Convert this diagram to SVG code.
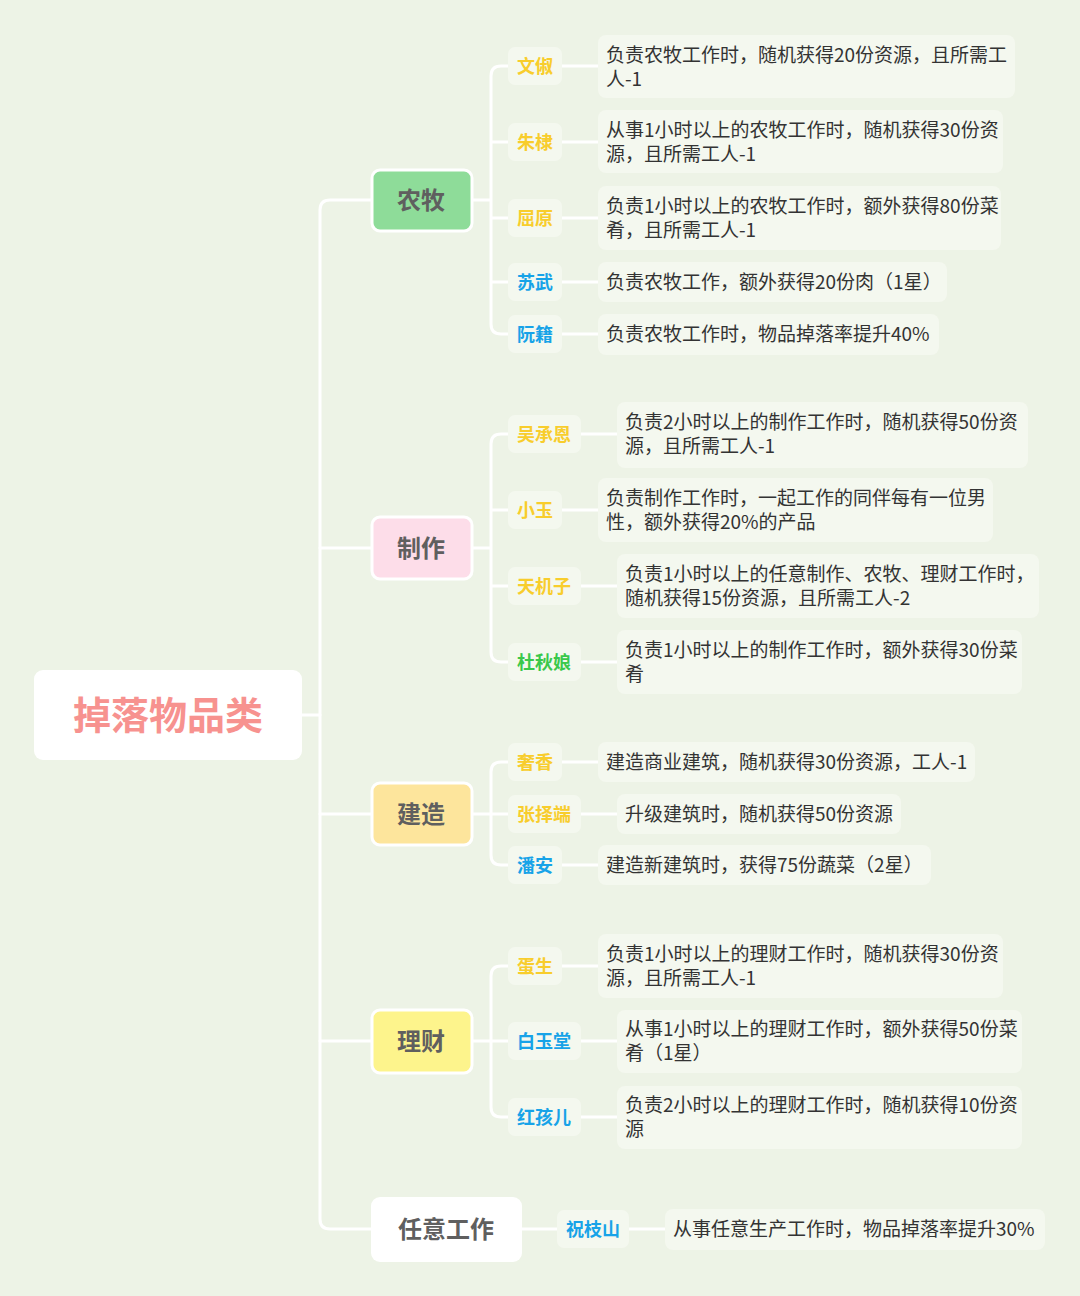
<svg xmlns="http://www.w3.org/2000/svg" width="1080" height="1296" viewBox="0 0 1080 1296">
<style>
text{font-family:"Noto Sans CJK SC","Noto Sans",sans-serif}
.ln{fill:none;stroke:#ffffff;stroke-width:3;stroke-linecap:round;stroke-linejoin:round}
.cat{stroke:#ffffff;stroke-width:3}
.ct{font-size:24px;font-weight:bold;fill:#5f5f5f;text-anchor:middle}
.nb{fill:#f4f8ef}
.nt{font-size:18px;font-weight:bold;text-anchor:middle}
.y{fill:#f8cd2c}
.b{fill:#17a3e8}
.g{fill:#3ac84b}
.db{fill:#f4f8ef}
.dt{font-size:19px;fill:#333333}
</style>
<rect width="1080" height="1296" fill="#edf3e6"/>
<g id="connectors" class="ln">
<path d="M302,715 H320"/>
<path d="M372,200 H330 Q320,200 320,210 V1219 Q320,1229 330,1229 H371"/>
<path d="M320,548 H372 M320,814 H372 M320,1041 H372"/>
<path d="M472,200 H491 M508,66 H501 Q491,66 491,76 V324 Q491,334 501,334 H508 M491,142 H508 M491,218 H508 M491,282 H508"/>
<path d="M562,66 H598 M562,142 H598 M562,218 H598 M562,282 H598 M562,334 H598"/>
<path d="M472,548 H491 M508,434 H501 Q491,434 491,444 V652 Q491,662 501,662 H508 M491,510 H508 M491,586 H508"/>
<path d="M581,434 H617 M562,510 H598 M581,586 H617 M581,662 H617"/>
<path d="M472,814 H491 M508,762 H501 Q491,762 491,772 V855 Q491,865 501,865 H508 M491,814 H508"/>
<path d="M562,762 H598 M581,814 H617 M562,865 H598"/>
<path d="M472,1041 H491 M508,966 H501 Q491,966 491,976 V1107 Q491,1117 501,1117 H508 M491,1041 H508"/>
<path d="M562,966 H598 M581,1041 H617 M581,1117 H617"/>
<path d="M522,1229 H557 M629,1229 H665"/>
</g>
<g id="root">
<rect x="34" y="670" width="268" height="90" rx="9" fill="#ffffff"/>
<text x="168" y="729" font-size="38" font-weight="bold" fill="#f7928f" text-anchor="middle">掉落物品类</text>
</g>
<g id="cat-nongmu">
<rect class="cat" x="372" y="170" width="100" height="61" rx="8" fill="#8edc99"/>
<text class="ct" x="421" y="209">农牧</text>
</g>
<g id="cat-zhizuo">
<rect class="cat" x="372" y="517" width="100" height="62" rx="8" fill="#fddde9"/>
<text class="ct" x="421" y="557">制作</text>
</g>
<g id="cat-jianzao">
<rect class="cat" x="372" y="783" width="100" height="62" rx="8" fill="#fde59c"/>
<text class="ct" x="421" y="823">建造</text>
</g>
<g id="cat-licai">
<rect class="cat" x="372" y="1010" width="100" height="63" rx="8" fill="#fdf48c"/>
<text class="ct" x="421" y="1050">理财</text>
</g>
<g id="cat-renyi">
<rect x="371" y="1197" width="151" height="65" rx="9" fill="#ffffff"/>
<text class="ct" x="446" y="1238">任意工作</text>
</g>
<g id="n-wenchu"><rect class="nb" x="508" y="47" width="54" height="38" rx="7"/><text class="nt y" x="535" y="73">文俶</text></g>
<g id="d-wenchu"><rect class="db" x="598" y="35" width="417" height="63" rx="8"/><text class="dt" x="606" y="62">负责农牧工作时，随机获得20份资源，且所需工</text><text class="dt" x="606" y="86">人-1</text></g>
<g id="n-zhudi"><rect class="nb" x="508" y="123" width="54" height="38" rx="7"/><text class="nt y" x="535" y="149">朱棣</text></g>
<g id="d-zhudi"><rect class="db" x="598" y="110" width="405" height="63" rx="8"/><text class="dt" x="606" y="137">从事1小时以上的农牧工作时，随机获得30份资</text><text class="dt" x="606" y="161">源，且所需工人-1</text></g>
<g id="n-quyuan"><rect class="nb" x="508" y="199" width="54" height="38" rx="7"/><text class="nt y" x="535" y="225">屈原</text></g>
<g id="d-quyuan"><rect class="db" x="598" y="186" width="403" height="64" rx="8"/><text class="dt" x="606" y="213">负责1小时以上的农牧工作时，额外获得80份菜</text><text class="dt" x="606" y="237">肴，且所需工人-1</text></g>
<g id="n-suwu"><rect class="nb" x="508" y="263" width="54" height="38" rx="7"/><text class="nt b" x="535" y="289">苏武</text></g>
<g id="d-suwu"><rect class="db" x="598" y="262" width="349" height="40" rx="8"/><text class="dt" x="606" y="289">负责农牧工作，额外获得20份肉（1星）</text></g>
<g id="n-ruanji"><rect class="nb" x="508" y="315" width="54" height="38" rx="7"/><text class="nt b" x="535" y="341">阮籍</text></g>
<g id="d-ruanji"><rect class="db" x="598" y="314" width="341" height="41" rx="8"/><text class="dt" x="606" y="341">负责农牧工作时，物品掉落率提升40%</text></g>
<g id="n-wuchengen"><rect class="nb" x="508" y="415" width="73" height="38" rx="7"/><text class="nt y" x="544" y="441">吴承恩</text></g>
<g id="d-wuchengen"><rect class="db" x="617" y="402" width="411" height="66" rx="8"/><text class="dt" x="625" y="429">负责2小时以上的制作工作时，随机获得50份资</text><text class="dt" x="625" y="453">源，且所需工人-1</text></g>
<g id="n-xiaoyu"><rect class="nb" x="508" y="491" width="54" height="38" rx="7"/><text class="nt y" x="535" y="517">小玉</text></g>
<g id="d-xiaoyu"><rect class="db" x="598" y="478" width="395" height="64" rx="8"/><text class="dt" x="606" y="505">负责制作工作时，一起工作的同伴每有一位男</text><text class="dt" x="606" y="529">性，额外获得20%的产品</text></g>
<g id="n-tianjizi"><rect class="nb" x="508" y="567" width="73" height="38" rx="7"/><text class="nt y" x="544" y="593">天机子</text></g>
<g id="d-tianjizi"><rect class="db" x="617" y="554" width="422" height="64" rx="8"/><text class="dt" x="625" y="581">负责1小时以上的任意制作、农牧、理财工作时，</text><text class="dt" x="625" y="605">随机获得15份资源，且所需工人-2</text></g>
<g id="n-duqiuniang"><rect class="nb" x="508" y="643" width="73" height="38" rx="7"/><text class="nt g" x="544" y="669">杜秋娘</text></g>
<g id="d-duqiuniang"><rect class="db" x="617" y="630" width="405" height="64" rx="8"/><text class="dt" x="625" y="657">负责1小时以上的制作工作时，额外获得30份菜</text><text class="dt" x="625" y="681">肴</text></g>
<g id="n-shexiang"><rect class="nb" x="508" y="743" width="54" height="38" rx="7"/><text class="nt y" x="535" y="769">奢香</text></g>
<g id="d-shexiang"><rect class="db" x="598" y="742" width="377" height="40" rx="8"/><text class="dt" x="606" y="769">建造商业建筑，随机获得30份资源，工人-1</text></g>
<g id="n-zhangzeduan"><rect class="nb" x="508" y="795" width="73" height="38" rx="7"/><text class="nt y" x="544" y="821">张择端</text></g>
<g id="d-zhangzeduan"><rect class="db" x="617" y="794" width="284" height="40" rx="8"/><text class="dt" x="625" y="821">升级建筑时，随机获得50份资源</text></g>
<g id="n-panan"><rect class="nb" x="508" y="846" width="54" height="38" rx="7"/><text class="nt b" x="535" y="872">潘安</text></g>
<g id="d-panan"><rect class="db" x="598" y="845" width="333" height="40" rx="8"/><text class="dt" x="606" y="872">建造新建筑时，获得75份蔬菜（2星）</text></g>
<g id="n-dansheng"><rect class="nb" x="508" y="947" width="54" height="38" rx="7"/><text class="nt y" x="535" y="973">蛋生</text></g>
<g id="d-dansheng"><rect class="db" x="598" y="934" width="405" height="64" rx="8"/><text class="dt" x="606" y="961">负责1小时以上的理财工作时，随机获得30份资</text><text class="dt" x="606" y="985">源，且所需工人-1</text></g>
<g id="n-baiyutang"><rect class="nb" x="508" y="1022" width="73" height="38" rx="7"/><text class="nt b" x="544" y="1048">白玉堂</text></g>
<g id="d-baiyutang"><rect class="db" x="617" y="1010" width="405" height="63" rx="8"/><text class="dt" x="625" y="1036">从事1小时以上的理财工作时，额外获得50份菜</text><text class="dt" x="625" y="1060">肴（1星）</text></g>
<g id="n-honghaier"><rect class="nb" x="508" y="1098" width="73" height="38" rx="7"/><text class="nt b" x="544" y="1124">红孩儿</text></g>
<g id="d-honghaier"><rect class="db" x="617" y="1086" width="405" height="63" rx="8"/><text class="dt" x="625" y="1112">负责2小时以上的理财工作时，随机获得10份资</text><text class="dt" x="625" y="1136">源</text></g>
<g id="n-zhuzhishan"><rect class="nb" x="557" y="1210" width="72" height="38" rx="7"/><text class="nt b" x="593" y="1236">祝枝山</text></g>
<g id="d-zhuzhishan"><rect class="db" x="665" y="1209" width="380" height="41" rx="8"/><text class="dt" x="673" y="1236">从事任意生产工作时，物品掉落率提升30%</text></g>
</svg>
